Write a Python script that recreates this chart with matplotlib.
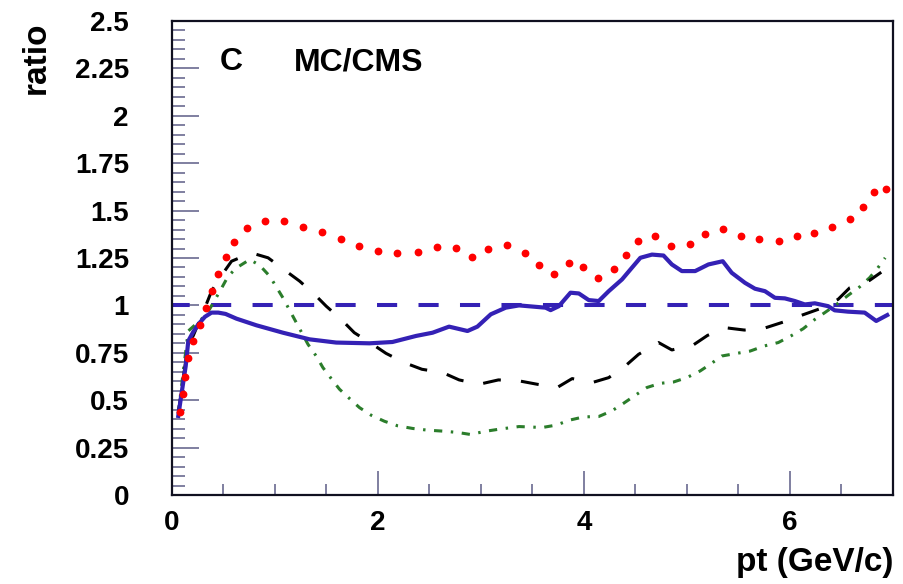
import numpy as np
import matplotlib
matplotlib.use('Agg')
import matplotlib.pyplot as plt

# ============================================================
# data
# ============================================================
# red dotted curve
red_x = [0.077, 0.103, 0.126, 0.152, 0.206, 0.271, 0.326, 0.384, 0.449, 0.52,
         0.604, 0.729, 0.90, 1.088, 1.271, 1.455, 1.636, 1.813, 2.0, 2.188,
         2.388, 2.575, 2.756, 2.91, 3.066, 3.256, 3.424, 3.562, 3.711, 3.853,
         3.995, 4.137, 4.29, 4.408, 4.524, 4.692, 4.847, 5.027, 5.179, 5.35,
         5.52, 5.70, 5.89, 6.07, 6.23, 6.41, 6.58, 6.71, 6.82, 6.93]
red_y = [0.438, 0.535, 0.625, 0.72, 0.81, 0.896, 0.988, 1.075, 1.163, 1.253,
         1.335, 1.407, 1.444, 1.444, 1.414, 1.386, 1.351, 1.314, 1.289, 1.277,
         1.284, 1.307, 1.302, 1.253, 1.30, 1.317, 1.274, 1.211, 1.163, 1.226,
         1.202, 1.146, 1.191, 1.265, 1.338, 1.368, 1.311, 1.323, 1.375, 1.402,
         1.368, 1.351, 1.342, 1.365, 1.38, 1.414, 1.458, 1.519, 1.596, 1.614]

# blue solid curve
blue_x = [0.061, 0.094, 0.133, 0.158, 0.206, 0.255, 0.32, 0.384, 0.449, 0.52,
          0.626, 0.82, 1.077, 1.336, 1.594, 1.917, 2.14, 2.37, 2.53, 2.69,
          2.869, 2.965, 3.095, 3.24, 3.369, 3.627, 3.676, 3.756, 3.869, 3.95,
          4.046, 4.143, 4.24, 4.369, 4.45, 4.547, 4.66, 4.772, 4.853, 4.95,
          5.079, 5.208, 5.347, 5.434, 5.563, 5.66, 5.757, 5.854, 5.95, 6.047,
          6.144, 6.241, 6.37, 6.434, 6.563, 6.725, 6.837, 6.944]
blue_y = [0.417, 0.54, 0.68, 0.812, 0.86, 0.9, 0.94, 0.962, 0.962, 0.955,
          0.93, 0.895, 0.856, 0.821, 0.804, 0.80, 0.807, 0.839, 0.856, 0.888,
          0.865, 0.888, 0.953, 0.988, 1.0, 0.988, 0.975, 0.996, 1.067, 1.063,
          1.028, 1.023, 1.075, 1.137, 1.189, 1.251, 1.268, 1.263, 1.216, 1.181,
          1.181, 1.216, 1.233, 1.172, 1.119, 1.088, 1.075, 1.04, 1.037, 1.023,
          1.005, 1.011, 0.996, 0.974, 0.967, 0.962, 0.918, 0.949]

# black dashed curve
black_x = [0.061, 0.10, 0.158, 0.206, 0.26, 0.32, 0.384, 0.465, 0.578, 0.771,
           0.933, 1.094, 1.239, 1.384, 1.497, 1.643, 1.77, 1.933, 2.078, 2.256,
           2.427, 2.626, 2.788, 2.982, 3.169, 3.369, 3.546, 3.74, 3.885, 4.079,
           4.24, 4.402, 4.53, 4.724, 4.853, 5.063, 5.2, 5.376, 5.557, 5.763,
           5.934, 6.118, 6.289, 6.467, 6.58, 6.773, 6.886]
black_y = [0.43, 0.58, 0.80, 0.84, 0.91, 0.988, 1.075, 1.146, 1.233, 1.277,
           1.251, 1.186, 1.128, 1.058, 0.996, 0.926, 0.856, 0.80, 0.747, 0.698,
           0.663, 0.646, 0.607, 0.584, 0.607, 0.602, 0.584, 0.567, 0.614, 0.593,
           0.619, 0.681, 0.742, 0.804, 0.765, 0.792, 0.842, 0.882, 0.87, 0.882,
           0.912, 0.949, 0.982, 1.032, 1.093, 1.132, 1.175]

# green dash-dot curve
green_x = [0.061, 0.11, 0.158, 0.25, 0.336, 0.465, 0.545, 0.626, 0.755, 0.852,
           0.949, 1.077, 1.207, 1.32, 1.40, 1.465, 1.546, 1.626, 1.723, 1.82,
           1.933, 2.062, 2.19, 2.336, 2.481, 2.626, 2.772, 2.901, 3.03, 3.175,
           3.369, 3.595, 3.724, 3.869, 3.998, 4.143, 4.272, 4.385, 4.498, 4.611,
           4.74, 4.869, 4.998, 5.127, 5.224, 5.337, 5.482, 5.612, 5.75, 5.886,
           6.009, 6.128, 6.241, 6.338, 6.451, 6.564, 6.677, 6.773, 6.853, 6.924]
green_y = [0.43, 0.654, 0.865, 0.91, 0.953, 1.075, 1.154, 1.198, 1.242, 1.211,
           1.154, 1.04, 0.909, 0.795, 0.733, 0.672, 0.614, 0.558, 0.509, 0.461,
           0.421, 0.389, 0.365, 0.351, 0.342, 0.337, 0.33, 0.319, 0.335, 0.347,
           0.361, 0.356, 0.368, 0.396, 0.412, 0.414, 0.444, 0.484, 0.526, 0.567,
           0.589, 0.596, 0.619, 0.654, 0.689, 0.733, 0.747, 0.759, 0.786, 0.804,
           0.839, 0.877, 0.926, 0.962, 1.005, 1.053, 1.098, 1.146, 1.198, 1.251]

# reference line at ratio = 1
ref_x = [0.0, 7.0]
ref_y = [1.0, 1.0]

x_ticks = [0, 2, 4, 6]
x_ticklabels = ['0', '2', '4', '6']
y_ticks = [0, 0.25, 0.5, 0.75, 1, 1.25, 1.5, 1.75, 2, 2.25, 2.5]
y_ticklabels = ['0', '0.25', '0.5', '0.75', '1', '1.25', '1.5', '1.75', '2', '2.25', '2.5']

# ============================================================
# style
# ============================================================
plt.rcParams['font.family'] = ['Liberation Sans', 'DejaVu Sans']
plt.rcParams['font.weight'] = 'bold'

W, H = 904, 584
fig = plt.figure(figsize=(W / 100, H / 100), dpi=100)
ax = fig.add_axes([172 / W, 1 - 495 / H, (893 - 172) / W, (495 - 21) / H])

# ============================================================
# curves
# ============================================================
ax.plot(ref_x, ref_y, color='#3421b5', lw=2.9, linestyle=(0.6, (5.0, 5.3)),
        solid_capstyle='butt', dash_capstyle='butt', zorder=2)
ax.plot(green_x, green_y, color='#2b7d2b', lw=2.2,
        linestyle=(0, (2.7, 2.8, 0.8, 2.8)), dash_capstyle='butt', zorder=3)
ax.plot(black_x, black_y, color='black', lw=2.2,
        linestyle=(0, (5.9, 6.6)), dash_capstyle='butt', zorder=4)
ax.plot(blue_x, blue_y, color='#3421b5', lw=3.0, zorder=5)
ax.plot(red_x, red_y, linestyle='none', marker='o', ms=4.6,
        color='#ff0000', mec='#ff0000', zorder=6)

# ============================================================
# axes
# ============================================================
ax.set_xlim(0, 7)
ax.set_ylim(0, 2.5)

ax.set_xticks(x_ticks)
ax.set_xticklabels(x_ticklabels)
ax.set_xticks(np.arange(0.5, 7.0, 0.5), minor=True)
ax.set_yticks(y_ticks)
ax.set_yticklabels(y_ticklabels)
ax.set_yticks(np.arange(0.05, 2.5, 0.05), minor=True)

tick_col = '#6a6a90'
ax.tick_params(axis='both', which='both', direction='in', color=tick_col,
               top=False, right=False, labelsize=20)
ax.tick_params(axis='y', which='major', length=19.5, width=1.2, pad=31)
ax.tick_params(axis='y', which='minor', length=9.5, width=1.2)
ax.tick_params(axis='x', which='major', length=17, width=1.2, pad=11)
ax.tick_params(axis='x', which='minor', length=8, width=1.2)

for s in ax.spines.values():
    s.set_color('#101020')
    s.set_linewidth(1.6)

# ============================================================
# labels / text
# ============================================================
fig.text(893 / W, 1 - 571 / H, 'pt (GeV/c)', ha='right', va='baseline',
         fontsize=24, fontweight='bold')
fig.text(36 / W, 1 - 22 / H, 'ratio', rotation=90, ha='center', va='top',
         fontsize=24, fontweight='bold')
ax.text(0.465, 2.24, 'C', ha='left', va='baseline', fontsize=23, fontweight='bold')
ax.text(1.18, 2.24, 'MC/CMS', ha='left', va='baseline', fontsize=23, fontweight='bold')

fig.savefig('out.png', dpi=100)
